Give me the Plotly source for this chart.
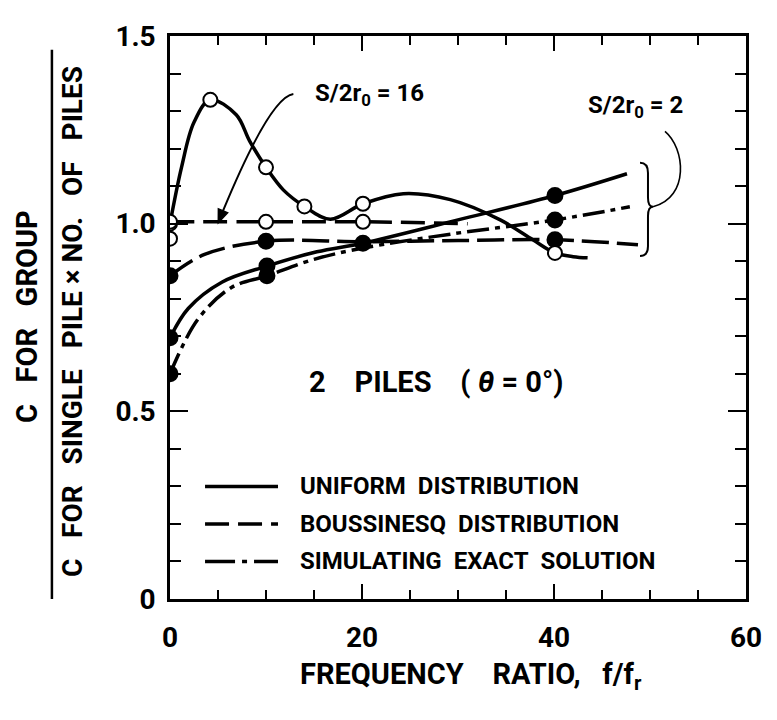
import plotly.graph_objects as go

FONT = "Roboto, Liberation Sans, DejaVu Sans, sans-serif"

# ---------------- data ----------------
# S/2r0 = 16  (open circles)
s16_uni_x = [0, 1.2, 2.5, 4.2, 6.9, 8.3, 10.0, 11.8, 14.0, 16.7, 20.1, 24.3, 29.2, 34.4, 37.8, 40.1, 42.0, 43.5]
s16_uni_y = [1.0, 1.15, 1.27, 1.33, 1.29, 1.22, 1.15, 1.09, 1.046, 1.012, 1.053, 1.08, 1.064, 1.01, 0.957, 0.922, 0.912, 0.909]
s16_uni_mx = [0, 4.2, 10.0, 14.0, 20.1, 40.1]
s16_uni_my = [1.0, 1.33, 1.15, 1.046, 1.053, 0.922]

s16_bou_x = [0, 10.0, 20.1, 31.0]
s16_bou_y = [1.005, 1.005, 1.005, 1.0]
s16_bou_mx = [0, 10.0, 20.1]
s16_bou_my = [1.005, 1.005, 1.005]

s16_sim_mx = [0]
s16_sim_my = [0.96]

# S/2r0 = 2  (filled circles)
s2_uni_x = [0, 1.9, 5.4, 10.1, 15.3, 20.1, 30.0, 40.1, 47.6]
s2_uni_y = [0.696, 0.774, 0.844, 0.887, 0.925, 0.948, 1.01, 1.075, 1.133]
s2_uni_mx = [0, 10.1, 20.1, 40.1]
s2_uni_my = [0.696, 0.887, 0.948, 1.075]

s2_bou_x = [0, 3.6, 10.0, 20.1, 30.0, 40.1, 48.75]
s2_bou_y = [0.861, 0.918, 0.953, 0.952, 0.955, 0.957, 0.944]
s2_bou_mx = [0, 10.0, 40.1]
s2_bou_my = [0.861, 0.953, 0.957]

s2_sim_x = [0, 2.9, 6.4, 10.1, 15.0, 20.1, 29.2, 40.1, 47.9]
s2_sim_y = [0.6, 0.745, 0.83, 0.861, 0.905, 0.935, 0.972, 1.01, 1.045]
s2_sim_mx = [0, 10.1, 40.1]
s2_sim_my = [0.6, 0.861, 1.01]

legend_names = ["UNIFORM&nbsp;&nbsp;DISTRIBUTION",
                "BOUSSINESQ&nbsp;&nbsp;DISTRIBUTION",
                "SIMULATING&nbsp;&nbsp;EXACT&nbsp;&nbsp;SOLUTION"]
legend_y = [0.3, 0.2, 0.1]

x_tickvals = [0, 20, 40, 60]
x_ticktext = ["0", "20", "40", "60"]
y_tickvals = [0, 0.5, 1.0, 1.5]
y_ticktext = ["0", "0.5", "1.0", "1.5"]

# ---------------- styles ----------------
LW = 3.5
DASH = "24px,9px"
LONGDASH = "27px,8px"
DASHDOT = "22px,6px,5px,6px"
SP3 = "&nbsp;&nbsp;&nbsp;"
SP4 = "&nbsp;&nbsp;&nbsp;&nbsp;"

fig = go.Figure()

def curve(x, y, dash):
    fig.add_trace(go.Scatter(x=x, y=y, mode="lines",
                             line=dict(color="black", width=LW, dash=dash, shape="spline", smoothing=1.0),
                             hoverinfo="skip", showlegend=False))

def marks(x, y, filled):
    fig.add_trace(go.Scatter(x=x, y=y, mode="markers",
                             marker=dict(size=15 if filled else 14, color="black" if filled else "white",
                                         line=dict(color="black", width=2)),
                             hoverinfo="skip", showlegend=False))

curve(s16_uni_x, s16_uni_y, "solid")
curve(s16_bou_x, s16_bou_y, DASH)
curve(s2_uni_x, s2_uni_y, "solid")
curve(s2_bou_x, s2_bou_y, LONGDASH)
curve(s2_sim_x, s2_sim_y, DASHDOT)

marks(s2_uni_mx, s2_uni_my, True)
marks(s2_bou_mx, s2_bou_my, True)
marks(s2_sim_mx, s2_sim_my, True)
marks(s16_uni_mx, s16_uni_my, False)
marks(s16_bou_mx, s16_bou_my, False)
marks(s16_sim_mx, s16_sim_my, False)

shapes = []
annotations = []

# legend samples and labels
legend_dashes = ["solid", DASH, "30px,7px,5px,7px"]
for name, yy, dash in zip(legend_names, legend_y, legend_dashes):
    shapes.append(dict(type="line", xref="x", yref="y", x0=3.65, x1=11.25, y0=yy, y1=yy,
                       line=dict(color="black", width=LW, dash=dash)))
    annotations.append(dict(xref="x", yref="y", x=13.3, y=yy, text=name, showarrow=False,
                            xanchor="left", yanchor="middle",
                            font=dict(family=FONT, size=24, color="black", weight="bold")))

# S/2r0 = 16 label + curved arrow
annotations.append(dict(xref="x", yref="y", x=20.8, y=1.345, text="S/2r<sub>0</sub> = 16", showarrow=False,
                        xanchor="center", yanchor="middle",
                        font=dict(family=FONT, size=24, color="black", weight="bold")))
shapes.append(dict(type="path", xref="x", yref="y", path="M 12.85,1.3455 Q 10.42,1.3369 5.52,1.034",
                   line=dict(color="black", width=2)))
shapes.append(dict(type="path", xref="x", yref="y", path="M 5.03,1.0026 L 6.0,1.029 L 5.04,1.0393 Z",
                   line=dict(color="black", width=1.5), fillcolor="black"))

# S/2r0 = 2 label, connector and brace
annotations.append(dict(xref="x", yref="y", x=48.5, y=1.312, text="S/2r<sub>0</sub> = 2", showarrow=False,
                        xanchor="center", yanchor="middle",
                        font=dict(family=FONT, size=24, color="black", weight="bold")))
shapes.append(dict(type="path", xref="x", yref="y",
                   path="M 51.56,1.246 C 53.65,1.2016 54.17,1.0707 50.31,1.045",
                   line=dict(color="black", width=1.6)))
shapes.append(dict(type="path", xref="x", yref="y",
                   path=("M 48.96,1.162 Q 49.79,1.162 49.79,1.135 L 49.79,1.07 Q 49.79,1.045 50.31,1.045 "
                         "Q 49.79,1.045 49.79,1.02 L 49.79,0.94 Q 49.79,0.914 48.96,0.914"),
                   line=dict(color="black", width=2)))

# 2 PILES label
annotations.append(dict(xref="x", yref="y", x=14.3, y=0.579,
                        text="2" + SP4 + "PILES" + SP4 + "(&nbsp;<i>θ</i> = 0°)", showarrow=False,
                        xanchor="left", yanchor="middle",
                        font=dict(family=FONT, size=29, color="black", weight="bold")))

# y-axis title as fraction
annotations.append(dict(xref="paper", yref="paper", x=-0.248, y=0.501,
                        text="C" + SP3 + "FOR" + SP3 + "GROUP",
                        showarrow=False, textangle=-90, xanchor="center", yanchor="middle",
                        font=dict(family=FONT, size=29, color="black", weight="bold")))
annotations.append(dict(xref="paper", yref="paper", x=-0.170, y=0.492,
                        text="C" + SP3 + "FOR" + SP3 + "SINGLE" + SP3 + "PILE × NO." + SP3 + "OF" + SP3 + "PILES",
                        showarrow=False, textangle=-90, xanchor="center", yanchor="middle",
                        font=dict(family=FONT, size=28, color="black", weight="bold")))
shapes.append(dict(type="line", xref="paper", yref="paper", x0=-0.205, x1=-0.205, y0=0.0, y1=0.9756,
                   line=dict(color="black", width=2.5)))

# x-axis title
annotations.append(dict(xref="paper", yref="paper", x=0.522, y=-0.136,
                        text="FREQUENCY" + SP4 + "RATIO," + SP3 + "f/f<sub>r</sub>", showarrow=False,
                        xanchor="center", yanchor="middle",
                        font=dict(family=FONT, size=29, color="black", weight="bold")))

fig.update_layout(
    width=769, height=712,
    margin=dict(l=162, r=31, t=18, b=121),
    paper_bgcolor="white", plot_bgcolor="white",
    showlegend=False,
    shapes=shapes, annotations=annotations,
    xaxis=dict(range=[0, 60], tickvals=x_tickvals, ticktext=x_ticktext, ticks="inside", ticklen=15,
               tickwidth=2, tickcolor="black", showline=True, linecolor="black", linewidth=2.5,
               mirror="allticks", showgrid=False, zeroline=False, ticklabelstandoff=12,
               minor=dict(tickvals=[5, 10, 15, 25, 30, 35, 45, 50, 55], ticks="inside", ticklen=9,
                          tickwidth=2, tickcolor="black", showgrid=False),
               tickfont=dict(family=FONT, size=28, color="black", weight="bold")),
    yaxis=dict(range=[0, 1.5], tickvals=y_tickvals, ticktext=y_ticktext, ticks="inside", ticklen=18,
               tickwidth=2, tickcolor="black", showline=True, linecolor="black", linewidth=2.5,
               mirror="allticks", showgrid=False, zeroline=False, ticklabelstandoff=6,
               minor=dict(dtick=0.1, ticks="inside", ticklen=11, tickwidth=2, tickcolor="black", showgrid=False),
               tickfont=dict(family=FONT, size=28, color="black", weight="bold")),
)

fig.write_html("out.html")
